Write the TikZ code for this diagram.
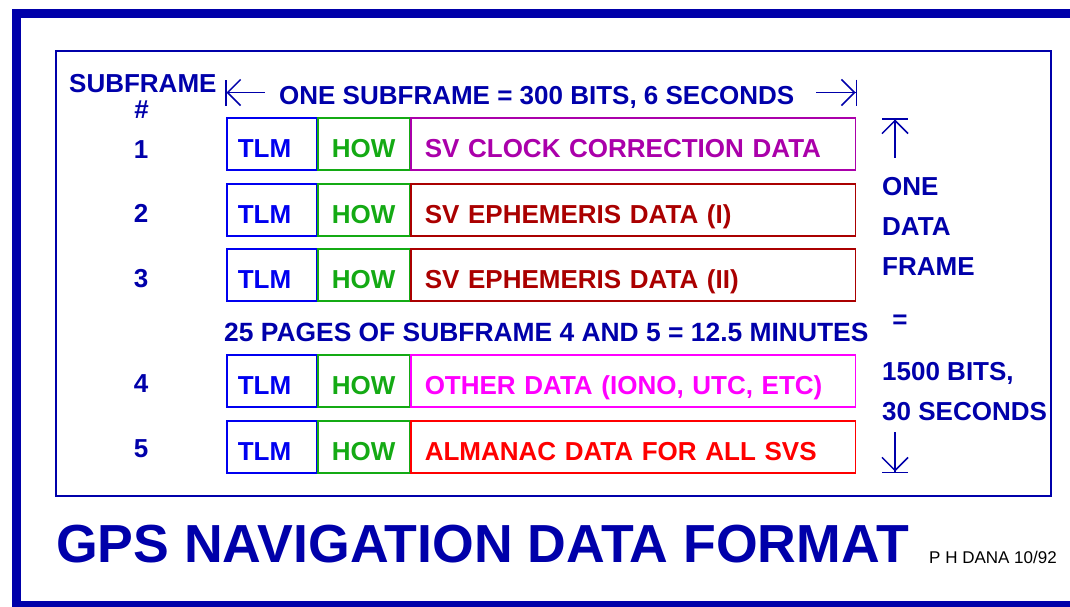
\documentclass[tikz,border=0pt]{standalone}
\usepackage{fontspec}
\setmainfont{Liberation Sans}
\usetikzlibrary{positioning,arrows.meta}

\definecolor{navy}{RGB}{0,0,170}
\definecolor{tlmblue}{RGB}{0,0,240}
\definecolor{howgreen}{RGB}{20,170,20}
\definecolor{clockpurple}{RGB}{170,0,170}
\definecolor{ephred}{RGB}{170,0,0}
\definecolor{otherpink}{RGB}{255,0,255}
\definecolor{almanacred}{RGB}{255,0,0}

\begin{document}
\begin{tikzpicture}[x=1pt,y=-1pt,
    every node/.style={font=\fontsize{26}{30}\selectfont\bfseries},
    lbl/.style={text=navy,inner sep=0pt,anchor=base west},
    num/.style={text=navy,inner sep=0pt,anchor=base},
    cell/.style={draw,line width=1.5pt,inner ysep=0pt,text height=27pt,text depth=0pt,minimum height=52pt,align=left},
    tlm/.style={cell,draw=tlmblue,text=tlmblue,inner xsep=11pt,text width=67.5pt},
    how/.style={cell,draw=howgreen,text=howgreen,inner xsep=14pt,text width=63.5pt},
    sv/.style={cell,draw=#1,text=#1,inner xsep=14pt,text width=416.5pt},
    dimarrow/.style={navy,line width=1.5pt,{Bar[width=26pt,sep=0pt]Straight Barb[length=13pt,width=26pt,sep=0pt]}-}]
    \useasboundingbox (0,0) rectangle (1070,606);
    \clip (0,0) rectangle (1070,606);
    \draw[navy,line width=9pt](16.5,13.5) rectangle (1085,605.5);
    \draw[navy,line width=2pt](56,51) rectangle (1051,496);

    \node[lbl] (sfhead) at (69,92) {SUBFRAME};
    \node[num] (hash) at (141.5,118) {\#};
    \node[lbl] (bitshead) at (279,104) {ONE SUBFRAME = 300 BITS, 6 SECONDS};

    \node[tlm,anchor=north west] (tlm1) at (226,117) {TLM};
    \node[how,right=0pt of tlm1] (how1) {HOW};
    \node[sv=clockpurple,right=0pt of how1] (sv1) {SV CLOCK CORRECTION DATA};
    \node[tlm,anchor=north west] (tlm2) at (226,183) {TLM};
    \node[how,right=0pt of tlm2] (how2) {HOW};
    \node[sv=ephred,right=0pt of how2] (sv2) {SV EPHEMERIS DATA (I)};
    \node[tlm,anchor=north west] (tlm3) at (226,248) {TLM};
    \node[how,right=0pt of tlm3] (how3) {HOW};
    \node[sv=ephred,right=0pt of how3] (sv3) {SV EPHEMERIS DATA (II)};
    \node[tlm,anchor=north west] (tlm4) at (226,354) {TLM};
    \node[how,right=0pt of tlm4] (how4) {HOW};
    \node[sv=otherpink,right=0pt of how4] (sv4) {OTHER DATA (IONO, UTC, ETC)};
    \node[tlm,anchor=north west] (tlm5) at (226,420) {TLM};
    \node[how,right=0pt of tlm5] (how5) {HOW};
    \node[sv=almanacred,right=0pt of how5] (sv5) {ALMANAC DATA FOR ALL SVS};

    \node[num] (n1) at (141,158) {1};
    \node[num] (n2) at (141,222) {2};
    \node[num] (n3) at (141,287) {3};
    \node[num] (n4) at (141,392) {4};
    \node[num] (n5) at (141,457) {5};
    \node[lbl,font=\fontsize{26.4}{30}\selectfont\bfseries] (pages) at (224,341) {25 PAGES OF SUBFRAME 4 AND 5 = 12.5 MINUTES};

    \node[lbl] (one) at (882,195) {ONE};
    \node[lbl] (data) at (882,235) {DATA};
    \node[lbl] (frame) at (882,275) {FRAME};
    \node[num] (equals) at (900,328) {=};
    \node[lbl] (bits) at (882,380) {1500 BITS,};
    \node[lbl] (secs) at (882,420) {30 SECONDS};

    \coordinate (lbar) at (225,92.5);
    \coordinate (lstub) at (265,92.5);
    \coordinate (rbar) at (857,92.5);
    \coordinate (rstub) at (816,92.5);
    \coordinate (ubar) at (895,118);
    \coordinate (ustub) at (895,158);
    \coordinate (dbar) at (895,473);
    \coordinate (dstub) at (895,432);
    \draw[dimarrow](lbar)--(lstub);
    \draw[dimarrow](rbar)--(rstub);
    \draw[dimarrow](ubar)--(ustub);
    \draw[dimarrow](dbar)--(dstub);

    \node[lbl,font=\fontsize{53.6}{60}\selectfont\bfseries] (title) at (56,562) {GPS NAVIGATION DATA FORMAT};
    \node[anchor=base west,inner sep=0pt,font=\fontsize{17}{20}\selectfont] (credit) at (929,563) {P H DANA 10/92};
\end{tikzpicture}
\end{document}
